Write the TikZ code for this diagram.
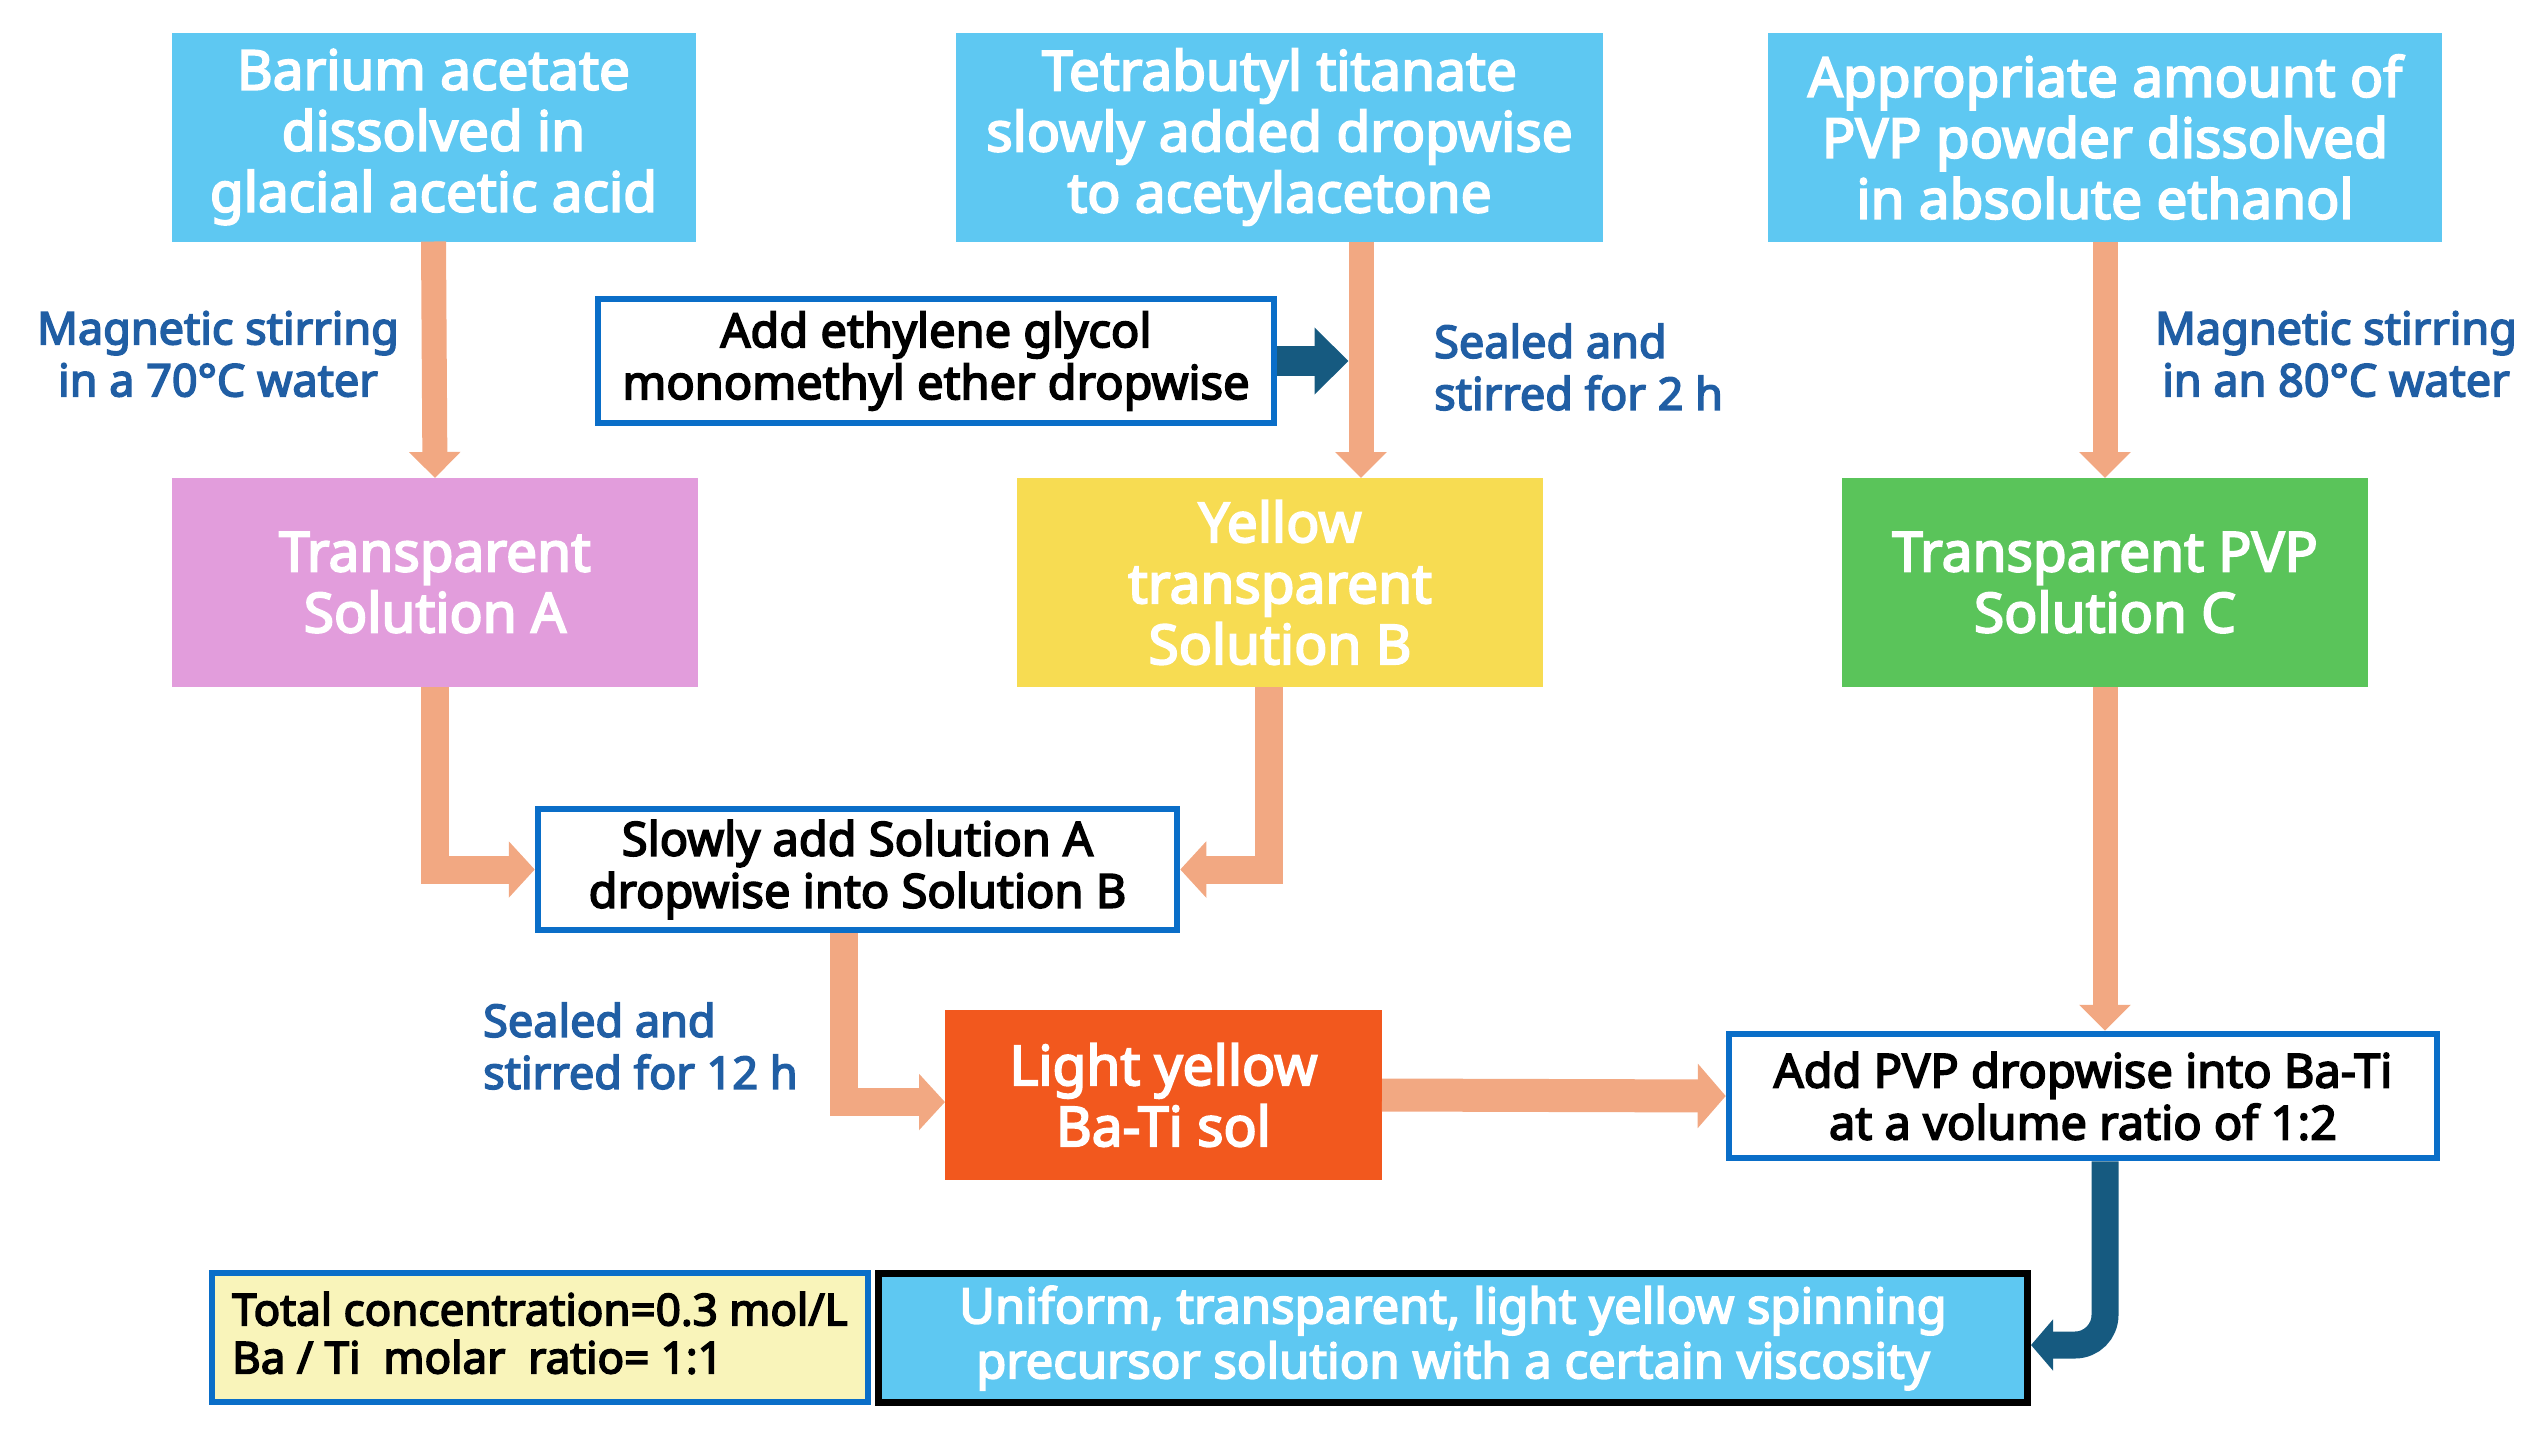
\documentclass[tikz,border=0pt]{standalone}
\usepackage{fontspec}
\setmainfont{Noto Sans}[BoldFont={Noto Sans}, BoldFeatures={FakeBold=3.5}]
\usetikzlibrary{arrows.meta}
\definecolor{skyb}{RGB}{94,200,242}
\definecolor{pinkb}{RGB}{226,157,220}
\definecolor{yelb}{RGB}{247,220,82}
\definecolor{greenb}{RGB}{90,196,90}
\definecolor{orb}{RGB}{242,88,30}
\definecolor{oarr}{RGB}{242,168,130}
\definecolor{bord}{RGB}{10,110,200}
\definecolor{darkb}{RGB}{22,90,128}
\definecolor{lbl}{RGB}{32,94,164}
\definecolor{pale}{RGB}{249,244,186}
\tikzset{
  fillbox/.style={rectangle, inner sep=0pt, outer sep=0pt, text=white, align=center,
    font=\fontsize{55}{61}\selectfont\bfseries},
  wbox/.style={rectangle, inner sep=0pt, draw=bord, line width=6.5pt, fill=white, text=black,
    align=center, font=\fontsize{47}{52}\selectfont\bfseries},
  lab/.style={text=lbl, inner sep=0pt, font=\fontsize{45}{52}\selectfont\bfseries},
  oarrow/.style={draw=oarr, line width=25pt, -{Triangle[length=26pt,width=50pt]}},
  obend/.style={draw=oarr, line width=28pt, line join=miter, -{Triangle[length=26pt,width=55pt]}},
  obig/.style={draw=oarr, line width=33pt, -{Triangle[length=28pt,width=63pt]}},
  darr/.style={draw=darkb, line width=30pt, -{Triangle[length=34pt,width=65pt]}},
  dcurve/.style={draw=darkb, line width=27pt, rounded corners=30pt, -{Triangle[length=22pt,width=50pt]}},
}
\begin{document}
\begin{tikzpicture}[x=1pt,y=-1pt]
\useasboundingbox (0,0) rectangle (2537,1440);
% top boxes
\node[fillbox, fill=skyb, minimum width=524pt, minimum height=209pt] (bar) at (433.5,137)
  {Barium acetate\\dissolved in\\glacial acetic acid};
\node[fillbox, fill=skyb, minimum width=647pt, minimum height=209pt] (tet) at (1279.5,137)
  {Tetrabutyl titanate\\slowly added dropwise\\to acetylacetone};
\node[fillbox, fill=skyb, minimum width=674pt, minimum height=209pt] (app) at (2105,137)
  {Appropriate amount of\\PVP powder dissolved\\in absolute ethanol};
% solutions
\node[fillbox, fill=pinkb, minimum width=526pt, minimum height=209pt] (solA) at (435,582.5)
  {Transparent\\Solution A};
\node[fillbox, fill=yelb, minimum width=526pt, minimum height=209pt] (solB) at (1280,582.5)
  {Yellow\\transparent\\Solution B};
\node[fillbox, fill=greenb, minimum width=526pt, minimum height=209pt] (solC) at (2105,582.5)
  {Transparent PVP\\Solution C};
% white boxes
\node[wbox, minimum width=676pt, minimum height=124pt] (eth) at (936,361)
  {Add ethylene glycol\\monomethyl ether dropwise};
\node[wbox, minimum width=639pt, minimum height=121pt] (slow) at (857.5,869.5)
  {Slowly add Solution A\\dropwise into Solution B};
\node[fillbox, fill=orb, minimum width=437pt, minimum height=170pt] (bati) at (1163.5,1095)
  {Light yellow\\Ba-Ti sol};
\node[wbox, minimum width=708pt, minimum height=124pt] (pvp) at (2083,1096)
  {Add PVP dropwise into Ba-Ti\\at a volume ratio of 1:2};
% bottom
\node[rectangle, draw=bord, line width=6.5pt, fill=pale, minimum width=656pt, minimum height=129pt,
  inner sep=0pt] (conc) at (540,1337.5) {};
\node[anchor=west, inner sep=0pt, align=left, text=black, font=\fontsize{44}{48}\selectfont\bfseries] (conctext) at (232,1333)
  {Total concentration=0.3 mol/L\\Ba / Ti\ \ molar\ \ ratio= 1:1};
\node[rectangle, draw=black, line width=7pt, fill=skyb, minimum width=1149pt, minimum height=129pt,
  inner sep=0pt, align=center, text=white, font=\fontsize{49}{55}\selectfont\bfseries] (unif) at (1453,1338)
  {Uniform, transparent, light yellow spinning\\precursor solution with a certain viscosity};
% labels
\node[lab, align=center] (lab1) at (218,354) {Magnetic stirring\\in a 70°C water};
\node[lab, align=left, anchor=west] (lab2) at (1434,367) {Sealed and\\stirred for 2 h};
\node[lab, align=center] (lab3) at (2336,354) {Magnetic stirring\\in an 80°C water};
\node[lab, align=left, anchor=west] (lab4) at (483,1046) {Sealed and\\stirred for 12 h};
% coordinates
\coordinate (bx) at (1361,0);
\coordinate (sx) at (844,0);
\coordinate (yx) at (1269,0);
% arrows
\draw[oarrow] (bar.south) -- (solA.north);
\draw[oarrow] (tet.south -| bx) -- (solB.north -| bx);
\draw[oarrow] (app.south) -- (solC.north);
\draw[darr] (eth.east) -- ([xshift=-12.5pt]eth.east -| bx);
\draw[obend] (solA.south) |- (slow.west);
\draw[obend] (solB.south -| yx) |- (slow.east);
\draw[obend] (slow.south -| sx) |- ([yshift=-7pt]bati.west);
\draw[obig] (bati.east) -- (pvp.west);
\draw[oarrow] (solC.south) -- (solC.south |- pvp.north);
\draw[dcurve] (pvp.south -| solC.south) |- ([yshift=-7pt]unif.east);
\end{tikzpicture}
\end{document}
